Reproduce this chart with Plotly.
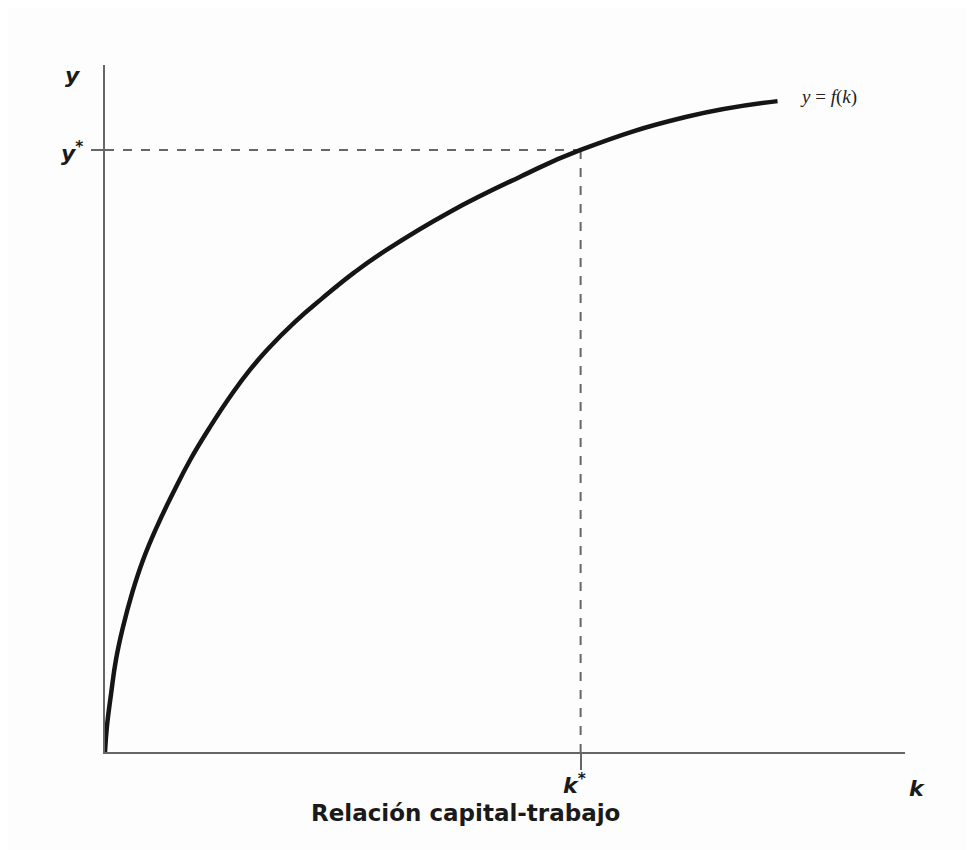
import plotly.graph_objects as go

# Production function y = f(k) (k* = 10, y* = 10 units)
k_vals = [0.0, 0.04, 0.13, 0.23, 0.38, 0.57, 0.80, 1.09, 1.43, 1.79, 2.21, 2.69, 3.05, 3.42, 3.99, 4.56, 5.25, 5.92, 7.25, 8.72, 10.0, 12.23, 14.14]
y_vals = [0.0, 0.42, 0.98, 1.53, 2.08, 2.64, 3.19, 3.74, 4.30, 4.85, 5.40, 5.97, 6.35, 6.69, 7.14, 7.53, 7.97, 8.34, 8.97, 9.55, 10.0, 10.55, 10.81]

k_star = 10.0
y_star = 10.0
x_max = 16.82
y_max = 11.41

curve_label = "<i>y</i> = <i>f</i>(<i>k</i>)"
x_title = "Relación capital-trabajo"

fig = go.Figure()

# dashed guide lines
fig.add_trace(go.Scatter(x=[0, k_star], y=[y_star, y_star], mode="lines",
                         line=dict(color="#666666", width=2, dash="9px,9px"),
                         hoverinfo="skip", showlegend=False))
fig.add_trace(go.Scatter(x=[k_star, k_star], y=[y_star, 0], mode="lines",
                         line=dict(color="#666666", width=2, dash="9px,9px"),
                         hoverinfo="skip", showlegend=False))

# production curve
fig.add_trace(go.Scatter(x=k_vals, y=y_vals, mode="lines",
                         line=dict(color="#151515", width=4.5, shape="spline", smoothing=1.3),
                         showlegend=False))

label_font = dict(family="DejaVu Sans", size=22, color="#1a1a1a")

annotations = [
    dict(x=0, y=y_max, xref="x", yref="y", text="<b><i>y</i></b>", showarrow=False,
         xanchor="right", yanchor="top", xshift=-22, yshift=4, font=label_font),
    dict(x=0, y=y_star, xref="x", yref="y", text="<b><i>y</i></b><sup><b>*</b></sup>", showarrow=False,
         xanchor="right", yanchor="middle", xshift=-20, yshift=-2, font=label_font),
    dict(x=k_star, y=0, xref="x", yref="y", text="<b><i>k</i></b><sup><b>*</b></sup>", showarrow=False,
         xanchor="center", yanchor="top", xshift=-6, yshift=-16, font=label_font),
    dict(x=x_max, y=0, xref="x", yref="y", text="<b><i>k</i></b>", showarrow=False,
         xanchor="left", yanchor="top", xshift=2, yshift=-22, font=label_font),
    dict(x=k_vals[-1], y=y_vals[-1], xref="x", yref="y", text=curve_label, showarrow=False,
         xanchor="left", yanchor="middle", xshift=20, yshift=4,
         font=dict(family="Liberation Serif", size=19, color="#222222")),
    dict(x=0.5, y=0, xref="paper", yref="paper", text="<b>" + x_title + "</b>", showarrow=False,
         xanchor="center", yanchor="top", xshift=-40, yshift=-46,
         font=dict(family="DejaVu Sans", size=23, color="#1a1a1a")),
]

fig.update_layout(
    width=975, height=850,
    margin=dict(l=97, r=78, t=57, b=106),
    paper_bgcolor="#fdfdfd", plot_bgcolor="#fdfdfd",
    xaxis=dict(range=[0, x_max], showgrid=False, zeroline=False, showline=True,
               linecolor="#666666", linewidth=2, ticks="outside", tickvals=[k_star],
               ticklen=16, tickwidth=2, tickcolor="#666666", showticklabels=False),
    yaxis=dict(range=[0, y_max], showgrid=False, zeroline=False, showline=True,
               linecolor="#666666", linewidth=2, ticks="outside", tickvals=[y_star],
               ticklen=12, tickwidth=2, tickcolor="#666666", showticklabels=False),
    annotations=annotations,
)

fig.write_html("out.html")
